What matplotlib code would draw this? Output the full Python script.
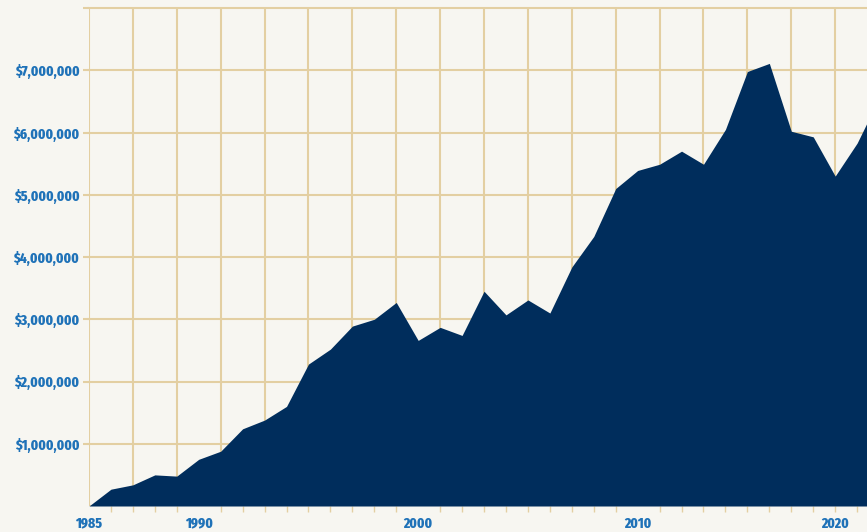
import matplotlib
matplotlib.use("Agg")
import matplotlib.pyplot as plt

# yearly totals
years = [1985, 1986, 1987, 1988, 1989, 1990, 1991, 1992, 1993, 1994,
         1995, 1996, 1997, 1998, 1999, 2000, 2001, 2002, 2003, 2004,
         2005, 2006, 2007, 2008, 2009, 2010, 2011, 2012, 2013, 2014,
         2015, 2016, 2017, 2018, 2019, 2020, 2021]
values = [0, 270000, 340000, 500000, 480000, 750000, 880000, 1240000, 1380000, 1600000,
          2280000, 2520000, 2890000, 3000000, 3270000, 2660000, 2870000, 2740000, 3450000, 3070000,
          3310000, 3100000, 3840000, 4330000, 5100000, 5390000, 5490000, 5700000, 5490000, 6050000,
          6980000, 7110000, 6020000, 5930000, 5300000, 5830000, 6550000]

y_ticks = [1000000, 2000000, 3000000, 4000000, 5000000, 6000000, 7000000]
y_labels = ['$1,000,000', '$2,000,000', '$3,000,000', '$4,000,000',
            '$5,000,000', '$6,000,000', '$7,000,000']
x_label_years = [1985, 1990, 2000, 2010, 2020]

bg = '#f7f6f1'
grid_col = '#e3cfa2'
fill_col = '#002d5c'
label_col = '#1f72b8'

plt.rcParams['font.family'] = ['Fira Sans Extra Condensed', 'DejaVu Sans']

fig = plt.figure(figsize=(8.67, 5.32), dpi=100, facecolor=bg)
ax = fig.add_axes([89 / 867, 26 / 532, 778 / 867, 498 / 532], facecolor=bg)

# grid
for yr in range(1985, 2021, 2):
    ax.axvline(yr, color=grid_col, lw=1.5, zorder=1)
for v in y_ticks + [8000000]:
    ax.axhline(v, color=grid_col, lw=1.5, zorder=1, clip_on=False)
ax.axhline(0, color=grid_col, lw=1.5, zorder=1)

ax.fill_between(years, values, 0, color=fill_col, lw=0, zorder=2)

ax.set_xlim(1985, 2020.45)
ax.set_ylim(0, 8000000)

for s in ax.spines.values():
    s.set_visible(False)

ax.set_yticks(y_ticks + [8000000])
ax.set_yticklabels(y_labels + [''], fontsize=10.5, fontweight=800, color=label_col)
ax.tick_params(axis='y', length=4, width=1.5, color=grid_col, pad=3)

ax.set_xticks(range(1985, 2021), minor=True)
ax.tick_params(axis='x', which='minor', length=4, width=1, color=grid_col)
ax.set_xticks(x_label_years[:-1])
ax.set_xticklabels([str(y) for y in x_label_years[:-1]], fontsize=10.5,
                   fontweight=800, color=label_col)
ax.tick_params(axis='x', which='major', length=0, pad=7.5)
# last label sits pulled in from the right edge
ax.text(2019, -0.021, str(x_label_years[-1]), transform=ax.get_xaxis_transform(),
        ha='center', va='top', fontsize=10.5, fontweight=800, color=label_col)

fig.savefig('out.png', dpi=100, facecolor=bg)
